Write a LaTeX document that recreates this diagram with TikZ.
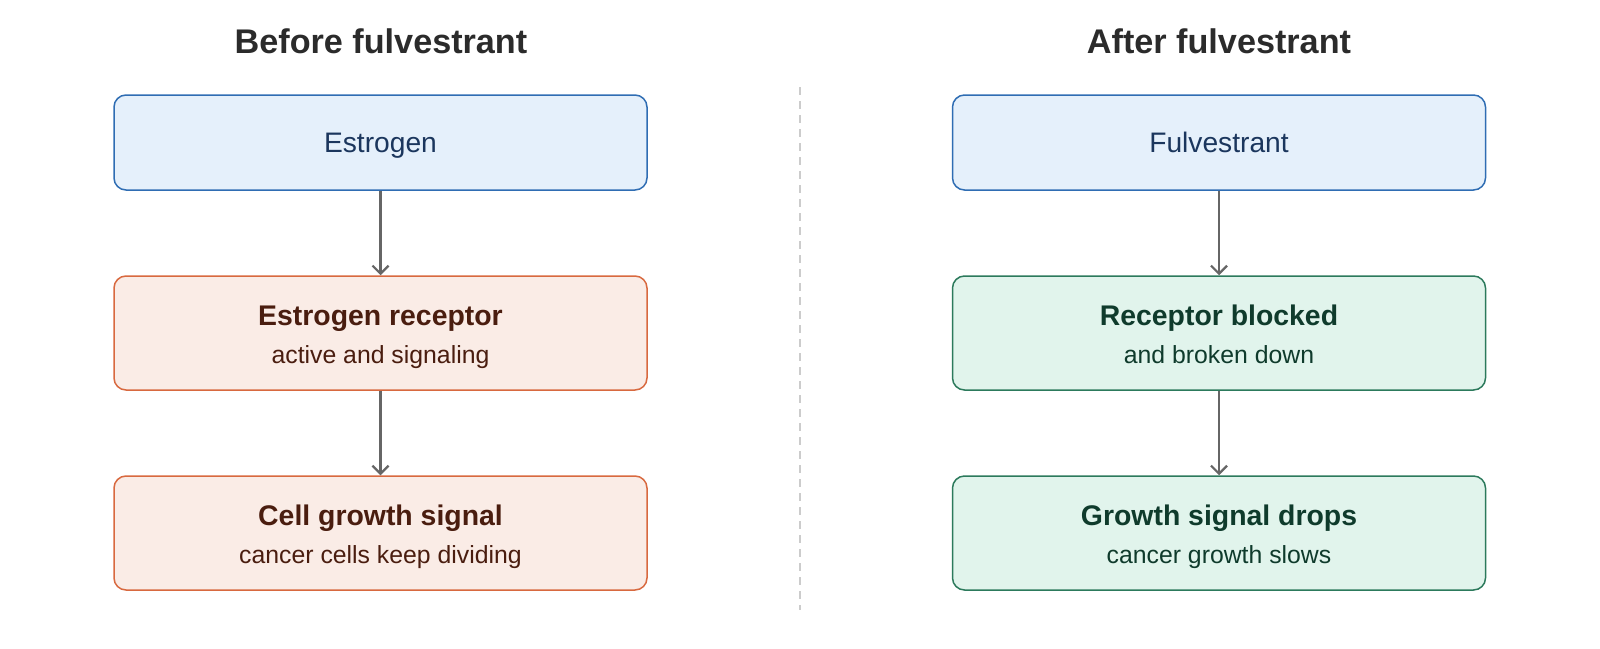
\documentclass[tikz,border=0pt]{standalone}
\usepackage{fontspec}
\setmainfont{Liberation Sans}
\usetikzlibrary{positioning,arrows.meta}
\definecolor{blueline}{HTML}{2F6DB3}\definecolor{bluefill}{HTML}{E5F0FB}\definecolor{bluetext}{HTML}{1B365D}
\definecolor{orgline}{HTML}{D8693F}\definecolor{orgfill}{HTML}{FAECE6}\definecolor{orgtext}{HTML}{4A1D0F}
\definecolor{grnline}{HTML}{2C7A5C}\definecolor{grnfill}{HTML}{E1F4EC}\definecolor{grntext}{HTML}{0F3B2C}
\definecolor{arrgray}{HTML}{666666}\definecolor{titlegray}{HTML}{2B2B2B}
\newcommand{\steptext}[2]{\fontsize{14.2}{20}\selectfont\bfseries\rule{0pt}{14.5pt}#1\\[7pt]\fontsize{12.4}{15}\selectfont\mdseries#2\vphantom{gy}}

\begin{document}
\begin{tikzpicture}[x=0.5pt,y=-0.5pt,
  box/.style={draw,line width=.75pt,rounded corners=6pt,minimum width=266.5pt,minimum height=57pt,inner sep=0pt,align=center},
  topbox/.style={box,draw=blueline,fill=bluefill,text=bluetext,minimum height=47.5pt,text height=10.1pt,text depth=0pt,font=\fontsize{14.1}{17}\selectfont},
  redbox/.style={box,draw=orgline,fill=orgfill,text=orgtext},
  greenbox/.style={box,draw=grnline,fill=grnfill,text=grntext},
  head/.style={text=titlegray,font=\fontsize{17.1}{20}\selectfont\bfseries},
  flow/.style={draw=arrgray,line width=1.1pt,-{Straight Barb[length=4pt,width=8pt]}}]
\useasboundingbox (0,0) rectangle (1600,648);
% titles
\node[head] (hbefore) at (381,41) {Before fulvestrant};
\node[head] (hafter) at (1219,41) {After fulvestrant};
\draw[black!20,line width=.75pt,dash pattern=on 4pt off 3pt] (800,87)--(800,610);
% before
\node[topbox] (estr) at (380.5,142.5) {Estrogen};
\node[redbox] (recp) at (380.5,333) {\steptext{Estrogen receptor}{active and signaling}};
\node[redbox] (cell) at (380.5,533) {\steptext{Cell growth signal}{cancer cells keep dividing}};
\draw[flow] (estr)--(recp); \draw[flow] (recp)--(cell);
% after
\node[topbox] (fulv) at (1219,142.5) {Fulvestrant};
\node[greenbox] (block) at (1219,333) {\steptext{Receptor blocked}{and broken down}};
\node[greenbox] (drop) at (1219,533) {\steptext{Growth signal drops}{cancer growth slows}};
\draw[flow] (fulv)--(block); \draw[flow] (block)--(drop);
\end{tikzpicture}
\end{document}
